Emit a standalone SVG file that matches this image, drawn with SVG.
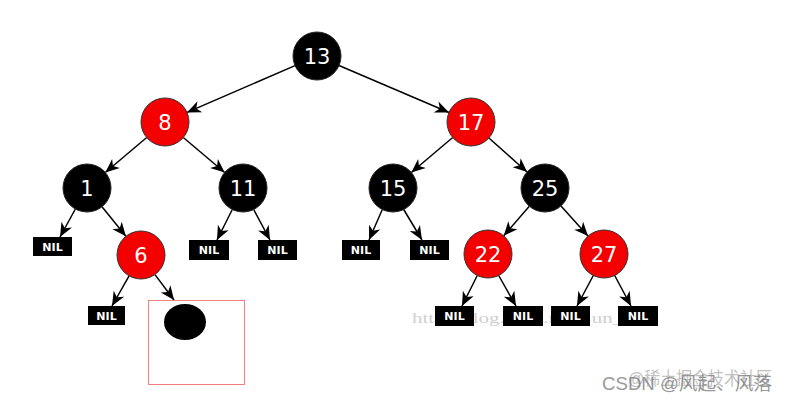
<svg xmlns="http://www.w3.org/2000/svg" width="788" height="401" viewBox="0 0 788 401">
<style>
.bk{fill:#000;stroke:#222;stroke-width:1}
.rd{fill:#f40000;stroke:#333;stroke-width:1}
.num{font-family:"DejaVu Sans",sans-serif;font-size:21px;fill:#fff;text-anchor:middle;dominant-baseline:central}
.nil{fill:#000}
.nilt{font-family:"DejaVu Sans",sans-serif;font-size:11px;font-weight:bold;fill:#fff;text-anchor:middle;dominant-baseline:central}
.e{stroke:#000;stroke-width:1.5;fill:none;marker-end:url(#ah)}
.wm{font-family:"Liberation Serif",serif;font-size:15px;fill:#bbb;opacity:0.7}
.wm2{font-family:"Liberation Sans","Noto Sans CJK SC",sans-serif;font-size:18px;fill:#777;opacity:0.75}
</style>
<defs>
<marker id="ah" viewBox="-15 -7 16 14" markerWidth="16" markerHeight="14" refX="0" refY="0" orient="auto" markerUnits="userSpaceOnUse">
<path d="M0,0 L-14,-6 L-10,0 L-14,6 Z" fill="#000"/>
</marker>
</defs>
<rect width="788" height="401" fill="#fff"/>
<text class="wm" x="412" y="323" textLength="244" lengthAdjust="spacingAndGlyphs">http://blog.csdn.net/Sun_TIT</text>
<g id="connectors">
<line class="e" x1="295" y1="65.6" x2="187" y2="112.4"/>
<line class="e" x1="339" y1="65.5" x2="449" y2="112.5"/>
<line class="e" x1="146.7" y1="137.5" x2="105.3" y2="172.5"/>
<line class="e" x1="183.3" y1="137.5" x2="224.7" y2="172.5"/>
<line class="e" x1="452.7" y1="137.5" x2="411.3" y2="172.5"/>
<line class="e" x1="488.9" y1="138" x2="527.1" y2="172"/>
<line class="e" x1="75.4" y1="209" x2="60" y2="237"/>
<line class="e" x1="102" y1="206.7" x2="125.9" y2="236.3"/>
<line class="e" x1="232.3" y1="209.5" x2="217" y2="240"/>
<line class="e" x1="253.7" y1="209.5" x2="270" y2="240"/>
<line class="e" x1="382.3" y1="209.5" x2="369" y2="240"/>
<line class="e" x1="403.7" y1="209.5" x2="422" y2="240"/>
<line class="e" x1="529.3" y1="206.2" x2="503.7" y2="235.8"/>
<line class="e" x1="561" y1="205.9" x2="588" y2="236.1"/>
<line class="e" x1="129.1" y1="275.9" x2="112" y2="306"/>
<line class="e" x1="155" y1="274.6" x2="174" y2="300"/>
<line class="e" x1="477.3" y1="275.5" x2="462" y2="306"/>
<line class="e" x1="498.7" y1="275.5" x2="516" y2="306"/>
<line class="e" x1="593.3" y1="275.5" x2="577" y2="306"/>
<line class="e" x1="614.7" y1="275.5" x2="631" y2="306"/>
</g>
<g id="n13"><circle class="bk" cx="317" cy="56" r="24"/><text class="num" x="317" y="57">13</text></g>
<g id="n8"><circle class="rd" cx="165" cy="122" r="24"/><text class="num" x="165" y="123">8</text></g>
<g id="n17"><circle class="rd" cx="471" cy="122" r="24"/><text class="num" x="471" y="123">17</text></g>
<g id="n1"><circle class="bk" cx="87" cy="188" r="24"/><text class="num" x="87" y="189">1</text></g>
<g id="n11"><circle class="bk" cx="243" cy="188" r="24"/><text class="num" x="243" y="189">11</text></g>
<g id="n15"><circle class="bk" cx="393" cy="188" r="24"/><text class="num" x="393" y="189">15</text></g>
<g id="n25"><circle class="bk" cx="545" cy="188" r="24"/><text class="num" x="545" y="189">25</text></g>
<g id="n6"><circle class="rd" cx="141" cy="255" r="24"/><text class="num" x="141" y="256">6</text></g>
<g id="n22"><circle class="rd" cx="488" cy="254" r="24"/><text class="num" x="488" y="255">22</text></g>
<g id="n27"><circle class="rd" cx="604" cy="254" r="24"/><text class="num" x="604" y="255">27</text></g>
<g id="nil1"><rect class="nil" x="33" y="237" width="39" height="19"/><text class="nilt" x="52.5" y="247">NIL</text></g>
<g id="nil11a"><rect class="nil" x="189" y="240" width="40" height="20"/><text class="nilt" x="209" y="250.5">NIL</text></g>
<g id="nil11b"><rect class="nil" x="258" y="240" width="39" height="20"/><text class="nilt" x="277.5" y="250.5">NIL</text></g>
<g id="nil15a"><rect class="nil" x="342" y="240" width="38" height="20"/><text class="nilt" x="361" y="250.5">NIL</text></g>
<g id="nil15b"><rect class="nil" x="410" y="240" width="39" height="20"/><text class="nilt" x="429.5" y="250.5">NIL</text></g>
<g id="nil6"><rect class="nil" x="88" y="306" width="37" height="19"/><text class="nilt" x="106.5" y="316">NIL</text></g>
<g id="nil22a"><rect class="nil" x="435" y="306" width="39" height="20"/><text class="nilt" x="454.5" y="316.5">NIL</text></g>
<g id="nil22b"><rect class="nil" x="503" y="306" width="40" height="20"/><text class="nilt" x="523" y="316.5">NIL</text></g>
<g id="nil27a"><rect class="nil" x="551" y="306" width="39" height="20"/><text class="nilt" x="570.5" y="316.5">NIL</text></g>
<g id="nil27b"><rect class="nil" x="618" y="306" width="40" height="20"/><text class="nilt" x="638" y="316.5">NIL</text></g>
<g id="newnode">
<rect x="148.5" y="300.5" width="96" height="84" fill="none" stroke="#f08080" stroke-width="1"/>
<ellipse cx="185" cy="322" rx="21" ry="18" fill="#000"/>
</g>
<text class="wm2" x="602" y="390" textLength="170" lengthAdjust="spacingAndGlyphs">CSDN @风起、风落</text>
<text class="wm2" x="628" y="385" textLength="144" lengthAdjust="spacingAndGlyphs" style="opacity:0.45">@稀土掘金技术社区</text>
</svg>
